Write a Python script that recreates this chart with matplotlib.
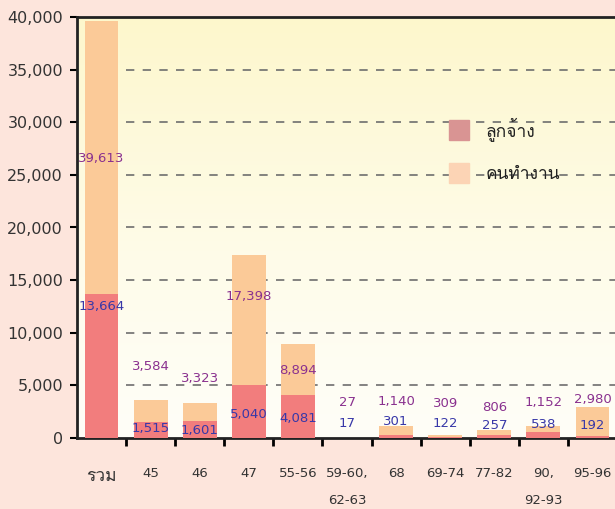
import matplotlib
matplotlib.use('Agg')
import matplotlib.pyplot as plt
import numpy as np
from matplotlib import font_manager, ft2font
from matplotlib.patches import Patch

# data
categories = ['รวม', '45', '46', '47', '55-56', '59-60,\n62-63', '68', '69-74', '77-82', '90,\n92-93', '95-96']
workers = [39613, 3584, 3323, 17398, 8894, 27, 1140, 309, 806, 1152, 2980]
employees = [13664, 1515, 1601, 5040, 4081, 17, 301, 122, 257, 538, 192]

# label heights (data units) as placed in the original
worker_label_y = [26600, 6750, 5700, 13400, 6460, 3420, 3515, 3325, 2945, 3420, 3705]
employee_label_y = [12450, 950, 760, 2280, 1900, 1425, 1615, 1425, 1235, 1330, 1235]


def find_thai_font():
    preferred = []
    others = []
    for f in font_manager.fontManager.ttflist:
        try:
            cmap = ft2font.FT2Font(f.fname).get_charmap()
        except Exception:
            continue
        if ord('ร') in cmap and ord('จ') in cmap:
            if 'sans' in f.name.lower() or 'loma' in f.name.lower() or 'tahoma' in f.name.lower():
                preferred.append(f.name)
            else:
                others.append(f.name)
    found = preferred + others
    return found[0] if found else None


thai = find_thai_font()
families = ['DejaVu Sans'] + ([thai] if thai else [])
plt.rcParams['font.family'] = families

fig = plt.figure(figsize=(6.15, 5.09), dpi=100)
fig.patch.set_facecolor('#fde5dc')
ax = fig.add_axes([77 / 615, 1 - 438 / 509, 540 / 615, (438 - 17) / 509])

x = np.arange(len(categories))
ax.set_xlim(-0.5, 10.5)
ax.set_ylim(0, 40000)

# gradient background
grad = np.linspace(0, 1, 256).reshape(-1, 1)
top = np.array([253, 247, 204]) / 255
bottom = np.array([255, 254, 247]) / 255
img = bottom + (top - bottom) * grad ** 1.3
ax.imshow(img[:, None, :].repeat(2, axis=1), extent=(-0.5, 10.5, 0, 40000),
          aspect='auto', origin='lower', zorder=0)

for yv in range(5000, 40000, 5000):
    ax.hlines(yv, 0.5, 10.5, colors='#6e6e6e', linestyles=(0, (5, 5)), linewidth=1.2, zorder=1)

ax.bar(x, workers, width=0.69, color='#fbca98', zorder=2)
ax.bar(x, employees, width=0.69, color='#f27d7d', zorder=3)

for i in range(len(categories)):
    ax.text(x[i], worker_label_y[i], f'{workers[i]:,}', ha='center', va='center',
            fontsize=9.5, color='#8a318f', zorder=5)
    ax.text(x[i], employee_label_y[i], f'{employees[i]:,}', ha='center', va='center',
            fontsize=9.5, color='#3838a8', zorder=5)

ax.set_yticks(range(0, 40001, 5000))
ax.set_yticklabels([f'{v:,}' for v in range(0, 40001, 5000)], fontsize=11.5, color='#333333')
ax.tick_params(axis='y', length=5, width=1.5, direction='out', pad=5)

ax.set_xticks(x)
ax.set_xticklabels(categories, fontsize=9.5, color='#333333', linespacing=2.35, va='top')
ax.get_xticklabels()[0].set_fontsize(12.5)
ax.set_xticks(np.arange(0.5, 10.5, 1), minor=True)
ax.tick_params(axis='x', which='major', length=0, pad=21)
ax.tick_params(axis='x', which='minor', length=6, width=2, direction='out')

for side in ['left', 'bottom', 'top']:
    ax.spines[side].set_linewidth(2)
    ax.spines[side].set_color('#222222')
ax.spines['right'].set_visible(False)

handles = [Patch(color='#d99493', label='ลูกจ้าง'), Patch(color='#fcd4b5', label='คนทำงาน')]
ax.legend(handles=handles, loc='upper left', bbox_to_anchor=(0.66, 0.8), frameon=False,
          fontsize=12.5, handlelength=1.15, handleheight=1.4, handletextpad=0.95,
          labelspacing=1.3, labelcolor='#222222')

fig.savefig('out.png', dpi=100, facecolor=fig.get_facecolor())
